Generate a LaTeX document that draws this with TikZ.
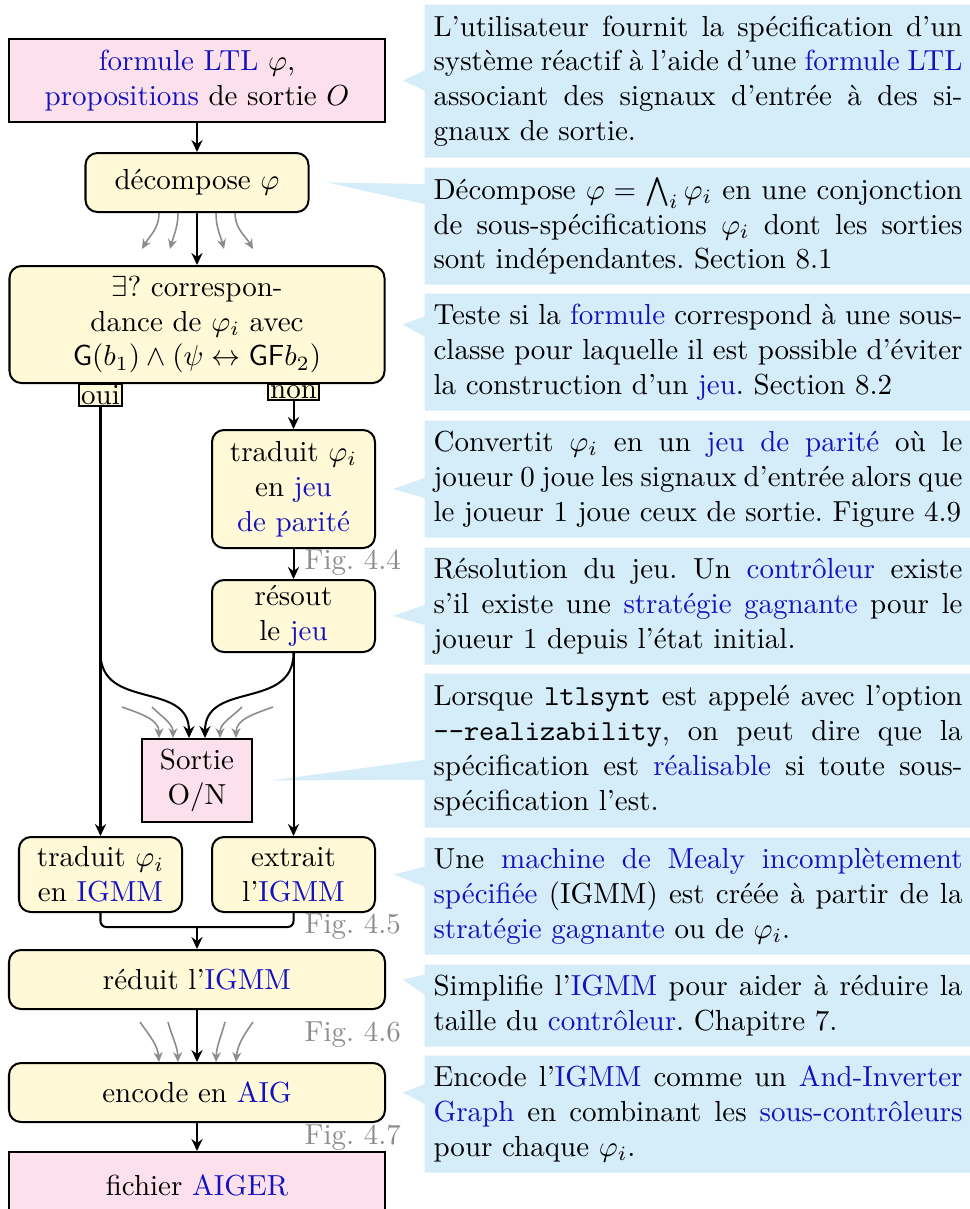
\documentclass[tikz,border=0pt]{standalone}
\usetikzlibrary{shapes.callouts,arrows.meta,backgrounds}
\definecolor{pinkbox}{RGB}{252,225,236}
\definecolor{yellowbox}{RGB}{255,249,216}
\definecolor{calloutblue}{RGB}{213,236,249}
\definecolor{linkblue}{RGB}{18,18,190}
\definecolor{figgray}{RGB}{140,140,140}
\newcommand{\gl}[1]{\textcolor{linkblue}{#1}}
\newdimen\px \px=0.344828pt
\frenchspacing
\tikzset{
  basebox/.style={draw, line width=0.69pt, align=center, inner sep=0pt},
  rbox/.style={basebox, fill=yellowbox, rounded corners=4.1pt},
  pbox/.style={basebox, fill=pinkbox},
  tabbox/.style={draw, line width=0.55pt, fill=yellowbox, inner xsep=0.7pt, inner ysep=0.5pt, anchor=north},
  arr/.style={line width=0.69pt, -{Stealth[length=4.1pt,width=3.8pt]}},
  garr/.style={line width=0.55pt, draw=figgray, -{Stealth[length=3.4pt,width=3.1pt]}},
  figlbl/.style={text=figgray, anchor=west, inner sep=0pt},
  note/.style={rectangle callout, fill=calloutblue, anchor=north west,
    text width=182.4pt, inner xsep=3.1pt, inner ysep=0pt, align=justify,
    callout pointer width=6.9pt,
    execute at begin node={\hyphenpenalty=10000 \exhyphenpenalty=10000 }},
}
\begin{document}
\begin{tikzpicture}[x=0.344828pt, y=0.344828pt]
\useasboundingbox (0,0) rectangle (969,-1209);

% main flow
\node[pbox, minimum width=376\px, minimum height=83\px] (in) at (197,-80.5)
  {\gl{formule LTL} $\varphi$,\\\gl{propositions} de sortie $O$};
\node[rbox, minimum width=223\px, minimum height=59\px] (dec) at (197,-182.5)
  {décompose $\varphi$};
\node[rbox, minimum width=375\px, minimum height=117\px] (corr) at (197,-324.5)
  {$\exists$? correspon-\\dance de $\varphi_i$ avec\\$\mathsf{G}(b_1)\land(\psi\leftrightarrow\mathsf{GF}b_2)$};
\node[tabbox] (oui) at (100.5,-383) {oui};
\node[tabbox] (non) at (293.5,-383) {non};
\node[rbox, minimum width=163\px, minimum height=118\px] (trjeu) at (293.5,-489)
  {traduit $\varphi_i$\\en \gl{jeu}\\\gl{de parité}};
\node[rbox, minimum width=163\px, minimum height=72\px] (res) at (293.5,-616)
  {résout\\le \gl{jeu}};
\node[pbox, minimum width=110\px, minimum height=83\px] (sortie) at (197,-780.5)
  {Sortie\\O/N};
\node[rbox, minimum width=163\px, minimum height=75\px] (trig) at (100.5,-874.5)
  {traduit $\varphi_i$\\en \gl{IGMM}};
\node[rbox, minimum width=163\px, minimum height=75\px] (extr) at (293.5,-874.5)
  {extrait\\l'\gl{IGMM}};
\node[rbox, minimum width=376\px, minimum height=59\px] (red) at (197,-979.5)
  {réduit l'\gl{IGMM}};
\node[rbox, minimum width=376\px, minimum height=59\px] (enc) at (197,-1092.5)
  {encode en \gl{AIG}};
\node[pbox, minimum width=376\px, minimum height=66\px] (fich) at (197,-1185)
  {fichier \gl{AIGER}};

% figure labels
\node[figlbl] (f44) at (304,-563) {Fig.~4.4};
\node[figlbl] (f45) at (304,-927) {Fig.~4.5};
\node[figlbl] (f46) at (304,-1035) {Fig.~4.6};
\node[figlbl] (f47) at (304,-1138) {Fig.~4.7};

% black connectors
\draw[arr] (in) -- (dec);
\draw[arr] (dec) -- (corr);
\draw[arr] (non) -- (trjeu);
\draw[arr] (trjeu) -- (res);
\draw[arr] (oui) -- (trig);
\draw[arr] (res) -- (extr);
\draw[arr] (oui.south |- res.south) to[out=-90,in=90,looseness=1.2] ([xshift=-8\px]sortie.north);
\draw[arr] (res.south) to[out=-90,in=90,looseness=1.2] ([xshift=8\px]sortie.north);
\coordinate (join) at (197,-927);
\draw[line width=0.69pt, rounded corners=2pt] (trig.south) |- (join) -| (extr.south);
\draw[arr] (join) -- (red);
\draw[arr] (red) -- (enc);
\draw[arr] (enc) -- (fich);

% grey fans
\draw[garr] ([xshift=-38\px]dec.south) to[out=-90,in=60] ([xshift=-55\px,yshift=16\px]corr.north);
\draw[garr] ([xshift=-19\px]dec.south) to[out=-90,in=75] ([xshift=-27\px,yshift=16\px]corr.north);
\draw[garr] ([xshift=19\px]dec.south) to[out=-90,in=105] ([xshift=27\px,yshift=16\px]corr.north);
\draw[garr] ([xshift=38\px]dec.south) to[out=-90,in=120] ([xshift=56\px,yshift=16\px]corr.north);

\draw[garr] ([xshift=-75\px,yshift=31\px]sortie.north) to[out=-20,in=90] ([xshift=-38\px]sortie.north);
\draw[garr] ([xshift=-45\px,yshift=31\px]sortie.north) to[out=-45,in=90] ([xshift=-24\px]sortie.north);
\draw[garr] ([xshift=45\px,yshift=31\px]sortie.north) to[out=-135,in=90] ([xshift=23\px]sortie.north);
\draw[garr] ([xshift=76\px,yshift=31\px]sortie.north) to[out=-160,in=90] ([xshift=39\px]sortie.north);

\draw[garr] ([xshift=-57\px,yshift=40\px]enc.north) to[out=-55,in=95] ([xshift=-38\px]enc.north);
\draw[garr] ([xshift=-29\px,yshift=40\px]enc.north) to[out=-75,in=92] ([xshift=-19\px]enc.north);
\draw[garr] ([xshift=28\px,yshift=40\px]enc.north) to[out=-105,in=88] ([xshift=19\px]enc.north);
\draw[garr] ([xshift=56\px,yshift=40\px]enc.north) to[out=-125,in=85] ([xshift=39\px]enc.north);

% callouts
\begin{pgfonlayer}{background}
\node[note, minimum height=153\px, callout absolute pointer={([xshift=17\px]in.east)}] (c1) at (424,-4)
  {L'utilisateur fournit la spécification d'un\linebreak
   système réactif à l'aide d'une \gl{formule LTL}\linebreak
   associant des signaux d'entrée à des si-\linebreak
   gnaux de sortie.};
\node[note, minimum height=117\px, callout absolute pointer={([xshift=17\px]dec.east)}] (c2) at (424,-167)
  {Décompose $\varphi = \bigwedge_i \varphi_i$ en une conjonction\linebreak
   de sous-spécifications $\varphi_i$ dont les sorties\linebreak
   sont indépendantes. Section 8.1};
\node[note, minimum height=117\px, callout absolute pointer={([xshift=17\px]corr.east)}] (c3) at (424,-293)
  {Teste si la \gl{formule} correspond à une sous-\linebreak
   classe pour laquelle il est possible d'éviter\linebreak
   la construction d'un \gl{jeu}. Section 8.2};
\node[note, minimum height=117\px, callout absolute pointer={([xshift=17\px]trjeu.east)}] (c4) at (424,-420)
  {Convertit $\varphi_i$ en un \gl{jeu de parité} où le\linebreak
   joueur 0 joue les signaux d'entrée alors que\linebreak
   le joueur 1 joue ceux de sortie. Figure 4.9};
\node[note, minimum height=117\px, callout absolute pointer={([xshift=17\px]res.east)}] (c5) at (424,-547)
  {Résolution du jeu. Un \gl{contrôleur} existe\linebreak
   s'il existe une \gl{stratégie gagnante} pour le\linebreak
   joueur 1 depuis l'état initial.};
\node[note, minimum height=154\px, callout absolute pointer={([xshift=18\px]sortie.east)}] (c6) at (424,-673)
  {Lorsque \texttt{ltlsynt} est appelé avec l'option\linebreak
   \texttt{-{}-realizability}, on peut dire que la\linebreak
   spécification est \gl{réalisable} si toute sous-\linebreak
   spécification l'est.};
\node[note, minimum height=117\px, callout absolute pointer={([xshift=18\px]extr.east)}] (c7) at (424,-837)
  {Une \gl{machine de Mealy incomplètement\linebreak
   spécifiée} (IGMM) est créée à partir de la\linebreak
   \gl{stratégie gagnante} ou de $\varphi_i$.};
\node[note, minimum height=82\px, callout absolute pointer={([xshift=17\px]red.east)}] (c8) at (424,-964)
  {Simplifie l'\gl{IGMM} pour aider à réduire la\linebreak
   taille du \gl{contrôleur}. Chapitre 7.};
\node[note, minimum height=117\px, callout absolute pointer={([xshift=17\px]enc.east)}] (c9) at (424,-1055)
  {Encode l'\gl{IGMM} comme un \gl{And-Inverter\linebreak
   Graph} en combinant les \gl{sous-contrôleurs}\linebreak
   pour chaque $\varphi_i$.};
\end{pgfonlayer}
\end{tikzpicture}
\end{document}
